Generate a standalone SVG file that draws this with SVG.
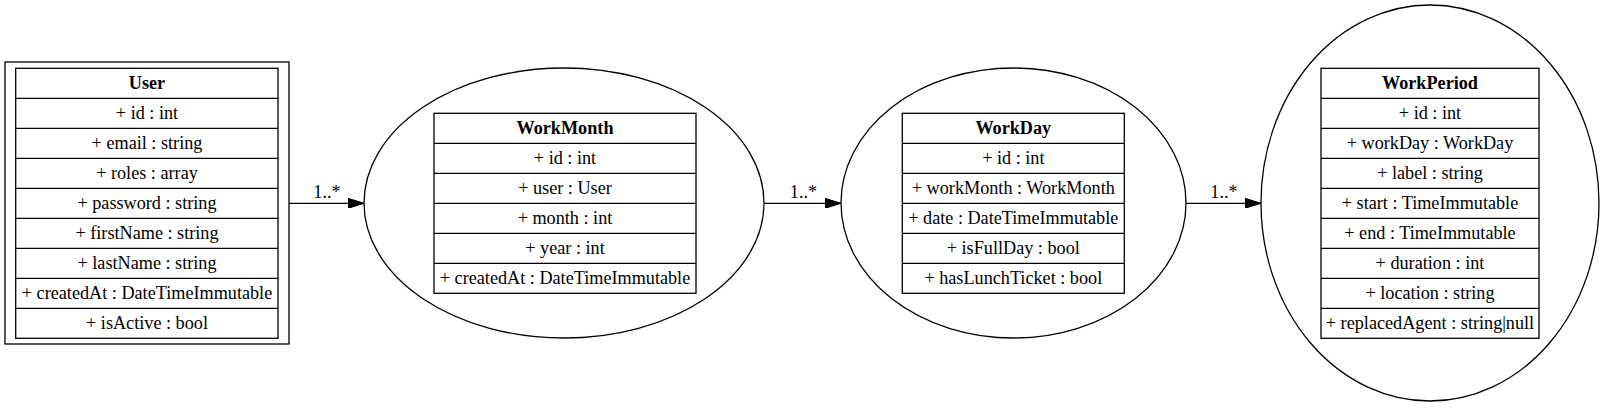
<svg xmlns="http://www.w3.org/2000/svg" width="1604" height="408" viewBox="0 0 1604 408">
<defs>
<marker id="arr" markerUnits="userSpaceOnUse" markerWidth="16" markerHeight="10" refX="16" refY="5" orient="auto">
<path d="M0,0 L16,5 L0,10 z" fill="#000" stroke="#000" stroke-width="1"/>
</marker>
</defs>
<style>
text{font-family:"Liberation Serif","Times New Roman",serif;font-size:18.2px;fill:#000;text-anchor:middle}
.h{font-weight:bold}
.b{fill:none;stroke:#000;stroke-width:1.3}
.e{fill:none;stroke:#000;stroke-width:1.3}
.c{fill:none;stroke:#000;stroke-width:1.3}
</style>
<rect width="1604" height="408" fill="#fff"/>
<g id="User">
<rect class="b" x="5" y="62" width="284" height="282"/>
<rect class="b" x="15.7" y="68.3" width="262.3" height="270"/>
<path class="b" d="M15.7,98.3H278M15.7,128.3H278M15.7,158.3H278M15.7,188.3H278M15.7,218.3H278M15.7,248.3H278M15.7,278.3H278M15.7,308.3H278"/>
<text class="h" x="147" y="88.5">User</text>
<text x="147" y="119">+ id : int</text>
<text x="147" y="149">+ email : string</text>
<text x="147" y="179">+ roles : array</text>
<text x="147" y="209">+ password : string</text>
<text x="147" y="239">+ firstName : string</text>
<text x="147" y="269">+ lastName : string</text>
<text x="147" y="299">+ createdAt : DateTimeImmutable</text>
<text x="147" y="329">+ isActive : bool</text>
</g>
<g id="WorkMonth">
<ellipse class="e" cx="564" cy="203" rx="200" ry="135"/>
<rect class="b" x="434" y="113.3" width="262" height="180"/>
<path class="b" d="M434,143.3H696M434,173.3H696M434,203.3H696M434,233.3H696M434,263.3H696"/>
<text class="h" x="565" y="133.5">WorkMonth</text>
<text x="565" y="164">+ id : int</text>
<text x="565" y="194">+ user : User</text>
<text x="565" y="224">+ month : int</text>
<text x="565" y="254">+ year : int</text>
<text x="565" y="284">+ createdAt : DateTimeImmutable</text>
</g>
<g id="WorkDay">
<ellipse class="e" cx="1013.5" cy="203" rx="172.5" ry="135"/>
<rect class="b" x="902.3" y="113.3" width="222" height="180"/>
<path class="b" d="M902.3,143.3H1124.3M902.3,173.3H1124.3M902.3,203.3H1124.3M902.3,233.3H1124.3M902.3,263.3H1124.3"/>
<text class="h" x="1013.3" y="133.5">WorkDay</text>
<text x="1013.3" y="164">+ id : int</text>
<text x="1013.3" y="194">+ workMonth : WorkMonth</text>
<text x="1013.3" y="224">+ date : DateTimeImmutable</text>
<text x="1013.3" y="254">+ isFullDay : bool</text>
<text x="1013.3" y="284">+ hasLunchTicket : bool</text>
</g>
<g id="WorkPeriod">
<ellipse class="e" cx="1430" cy="203" rx="169" ry="198"/>
<rect class="b" x="1321" y="68.3" width="218" height="270"/>
<path class="b" d="M1321,98.3H1539M1321,128.3H1539M1321,158.3H1539M1321,188.3H1539M1321,218.3H1539M1321,248.3H1539M1321,278.3H1539M1321,308.3H1539"/>
<text class="h" x="1430" y="88.5">WorkPeriod</text>
<text x="1430" y="119">+ id : int</text>
<text x="1430" y="149">+ workDay : WorkDay</text>
<text x="1430" y="179">+ label : string</text>
<text x="1430" y="209">+ start : TimeImmutable</text>
<text x="1430" y="239">+ end : TimeImmutable</text>
<text x="1430" y="269">+ duration : int</text>
<text x="1430" y="299">+ location : string</text>
<text x="1430" y="329">+ replacedAgent : string|null</text>
</g>
<g id="connectors">
<line class="c" x1="289" y1="203.3" x2="364" y2="203.3" marker-end="url(#arr)"/>
<text x="327" y="198">1..*</text>
<line class="c" x1="764" y1="203.3" x2="841" y2="203.3" marker-end="url(#arr)"/>
<text x="803.5" y="198">1..*</text>
<line class="c" x1="1186" y1="203.3" x2="1261" y2="203.3" marker-end="url(#arr)"/>
<text x="1224" y="198">1..*</text>
</g>
</svg>
